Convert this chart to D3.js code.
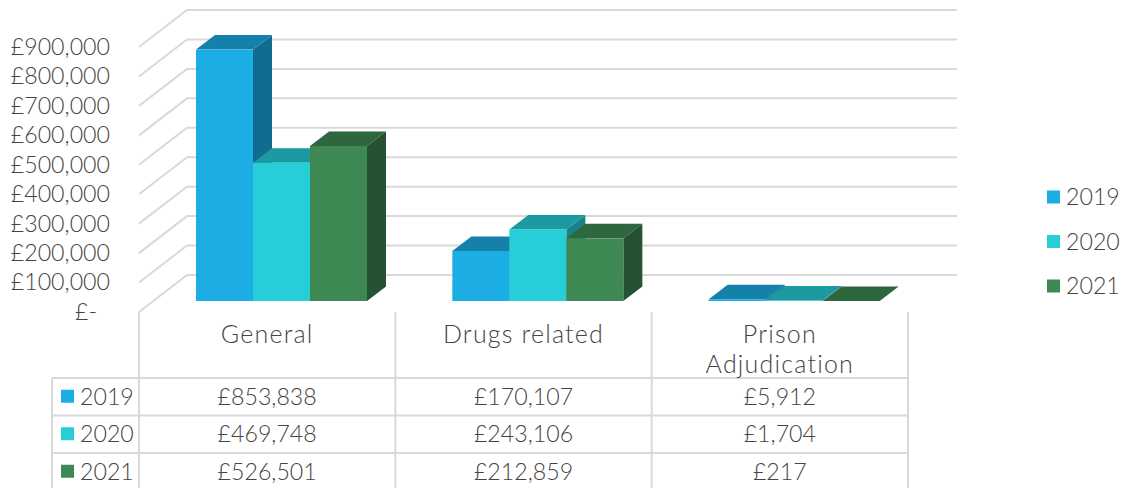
<!DOCTYPE html>
<html><head><meta charset="utf-8">
<script src="https://cdn.jsdelivr.net/npm/d3@7"></script>
<style>html,body{margin:0;padding:0;background:#fff}svg{display:block}
text{font-family:Lato,sans-serif;font-weight:300;font-size:23.2px;fill:#444}
.cat{font-size:25px;letter-spacing:1.2px}</style></head>
<body><svg width="1127" height="488"></svg>
<script>
const categories = ["General","Drugs related","Prison Adjudication"];
const categoryLines = [["General"],["Drugs related"],["Prison","Adjudication"]];
const years = ["2019","2020","2021"];
const values2019 = [853838,170107,5912];
const values2020 = [469748,243106,1704];
const values2021 = [526501,212859,217];
const seriesValues = [values2019,values2020,values2021];
const frontColors = ["#1CADE4","#27CED7","#3E8853"];
const topColors = ["#1581AB","#1D9AA1","#2E663E"];
const sideColors = ["#116C90","#178288","#255232"];
const yTicks = d3.range(0,900001,100000);

const svg = d3.select("svg");
const depthX = 48, depthY = -37, barDepthX = 19, barDepthY = -14.5;
const yAxisScale = d3.scaleLinear().domain([0,900000]).range([312,47]);
const yBar = d3.scaleLinear().domain([0,900000]).range([301,36]);
const xGroup = d3.scaleBand().domain(categories).range([139,908]);
const xBar = d3.scaleBand().domain(years).range([57,228]);
const money = v => "£" + d3.format(",")(v);
const line = "#D9D9D9";

// gridlines (floor edge + back wall)
const grid = svg.append("g").attr("fill","none").attr("stroke",line).attr("stroke-width",2);
grid.selectAll("path").data(yTicks).join("path")
  .attr("d", t => { const x=xGroup.range()[0], y=yAxisScale(t);
    return `M${x},${y}L${x+depthX},${y+depthY}L957,${y+depthY}`; });

// axis
const axis = svg.append("g").attr("transform","translate(115,0)")
  .call(d3.axisLeft(yAxisScale).tickValues(yTicks).tickSize(0).tickPadding(5)
    .tickFormat(t => t===0 ? "£-" : money(t)));
axis.select(".domain").remove();
axis.selectAll("text").attr("dx",t=>t===0?-13:0).style("font-size","23.2px").style("font-family","Lato,sans-serif");

// bars, left to right
years.forEach((yr,s)=>{
  categories.forEach((c,i)=>{
    const v = seriesValues[s][i], x0 = xGroup(c)+xBar(yr), x1 = x0+xBar.bandwidth();
    const yT = yBar(v), yB = yBar(0), g = svg.append("g");
    g.append("path").attr("fill",sideColors[s])
      .attr("d",`M${x1},${yT}L${x1+barDepthX},${yT+barDepthY}L${x1+barDepthX},${yB+barDepthY}L${x1},${yB}Z`);
    g.append("path").attr("fill",topColors[s])
      .attr("d",`M${x0},${yT}L${x0+barDepthX},${yT+barDepthY}L${x1+barDepthX},${yT+barDepthY}L${x1},${yT}Z`);
    g.append("rect").attr("fill",frontColors[s]).attr("x",x0).attr("y",yT)
      .attr("width",xBar.bandwidth()).attr("height",yB-yT);
  });
});

// data table
const rowY = d3.scaleBand().domain(years).range([378,490.5]);
const tbl = svg.append("g").attr("stroke",line).attr("stroke-width",2);
categories.concat(["end"]).forEach((c,i)=>{
  const x = i<categories.length ? xGroup(c) : xGroup.range()[1];
  tbl.append("line").attr("x1",x).attr("x2",x).attr("y1",312).attr("y2",488);
});
tbl.append("line").attr("x1",52).attr("x2",52).attr("y1",378).attr("y2",488);
years.forEach(yr=>{
  tbl.append("line").attr("x1",52).attr("x2",908).attr("y1",rowY(yr)).attr("y2",rowY(yr));
});
categories.forEach((c,i)=>{
  const cx = xGroup(c)+xGroup.bandwidth()/2;
  svg.append("text").attr("class","cat").attr("text-anchor","middle")
    .selectAll("tspan").data(categoryLines[i]).join("tspan")
    .attr("x",cx).attr("y",(d,k)=>343+k*30).text(d=>d);
});
years.forEach((yr,s)=>{
  const cy = rowY(yr)+rowY.bandwidth()/2;
  svg.append("rect").attr("x",61).attr("y",cy-7).attr("width",13).attr("height",13).attr("fill",frontColors[s]);
  svg.append("text").attr("x",80).attr("y",cy+8).text(yr);
  categories.forEach((c,i)=>{
    svg.append("text").attr("x",xGroup(c)+xGroup.bandwidth()/2).attr("y",cy+8)
      .attr("text-anchor","middle").text(money(seriesValues[s][i]));
  });
});

// legend
const legY = d3.scalePoint().domain(years).range([197,286]);
years.forEach((yr,s)=>{
  svg.append("rect").attr("x",1047).attr("y",legY(yr)-6.5).attr("width",13).attr("height",13).attr("fill",frontColors[s]);
  svg.append("text").attr("x",1066).attr("y",legY(yr)+8).text(yr);
});
</script></body></html>
